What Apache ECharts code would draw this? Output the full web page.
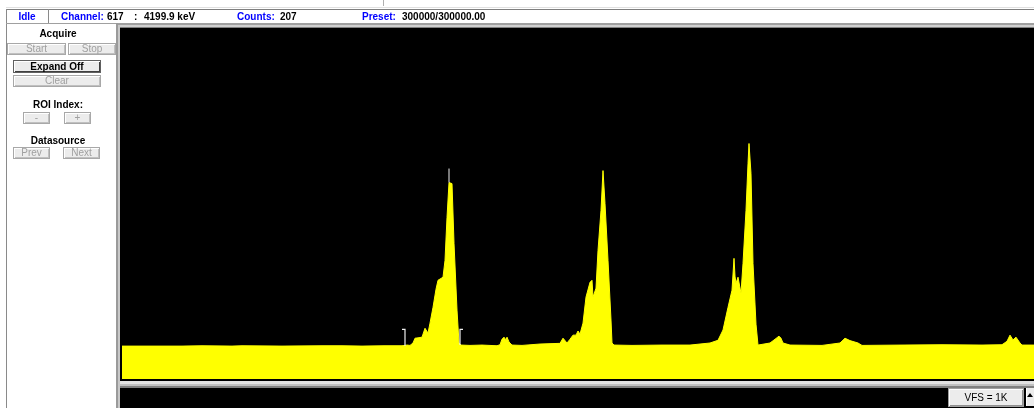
<!DOCTYPE html>
<html><head><meta charset="utf-8">
<script src="https://cdn.jsdelivr.net/npm/echarts@6/dist/echarts.min.js"></script>
<style>html,body{margin:0;padding:0;background:#fff;}#c{width:1034px;height:408px;}</style>
</head><body><div id="c"></div>
<script>
// ---- data (channel index, counts) ----
const channels = [0,30,31,60,80,110,111,120,160,200,220,221,240,262,263,280,
  285,288,291,293,296,300,303,306,308,311,314,316,321,323,325,327,329,330,332,335,337,339,
  348,360,375,378,380,382,384,385,387,390,400,418,438,
  441,445,448,451,454,456,458,460,461,464,468,470,471,474,476,479,481,483,486,489,490,492,
  510,540,568,588,596,601,606,610,612,613,614,616,619,621,624,626,627,629,631,634,636,
  648,653,657,659,661,668,700,718,723,728,736,740,780,820,860,880,
  885,888,891,894,898,900,912];
const counts = [96,96,100,96,97,96,100,97,96,97,97,101,96,97,101,97,
  99,98,105,119,120,122,148,134,163,209,262,288,297,346,471,573,576,570,396,201,105,99,
  98,99,97,100,116,122,114,122,108,99,98,102,104,
  119,105,116,128,128,140,131,134,163,239,282,288,239,265,375,492,608,512,346,172,105,99,
  98,99,99,105,113,143,209,259,352,300,279,297,250,337,492,628,687,599,337,160,99,
  105,116,125,119,105,99,98,105,119,112,105,98,99,100,99,100,
  110,128,114,122,105,99,99];
const roiLeftMarker = [[280,145],[283,145],[283,96]];
const roiRightMarker = [[341,145],[338,145],[338,99]];
const peakMarker = [[327,573],[327,614]];
const fullScale = 1024;
const maxChannel = 912;
const statusTexts = [
  {t:'Idle', x:27, c:'#0000ff', a:'center'},
  {t:'Channel:', x:61, c:'#0000ff'},
  {t:'617', x:107, c:'#000'},
  {t:':', x:134, c:'#000'},
  {t:'4199.9 keV', x:144, c:'#000'},
  {t:'Counts:', x:237, c:'#0000ff'},
  {t:'207', x:280, c:'#000'},
  {t:'Preset:', x:362, c:'#0000ff'},
  {t:'300000/300000.00', x:402, c:'#000'}
];
const panelLabels = [
  {t:'Acquire', y:34}, {t:'ROI Index:', y:105}, {t:'Datasource', y:141}
];
const buttons = [
  {t:'Start', x:7, y:43, w:59, h:12, on:false},
  {t:'Stop', x:68, y:43, w:48, h:12, on:false},
  {t:'Expand Off', x:13, y:60, w:88, h:13, on:true},
  {t:'Clear', x:13, y:75, w:88, h:12, on:false},
  {t:'-', x:23, y:112, w:27, h:12, on:false},
  {t:'+', x:64, y:112, w:27, h:12, on:false},
  {t:'Prev', x:13, y:147, w:37, h:12, on:false},
  {t:'Next', x:63, y:147, w:37, h:12, on:false}
];
const vfsLabel = 'VFS = 1K';

const FONT = '"Liberation Sans", Arial, sans-serif';
const g = [];
function R(x,y,w,h,fill){ g.push({type:'rect', shape:{x:x,y:y,width:w,height:h}, style:{fill:fill}, silent:true}); }
function T(text,x,y,fill,font,align){ g.push({type:'text', x:x, y:y, style:{text:text, fill:fill, font:font, align:align||'left', verticalAlign:'middle'}, silent:true}); }

// status bar
R(6,7,1028,1,'#e0e0e0');
R(6,9,1028,1,'#7f7f7f');
R(6,9,1,399,'#8a8a8a');
R(48,9,1,14,'#8a8a8a');
R(6,23,110,1,'#a0a0a0');
R(383,0,1,6,'#b0b0b0');
statusTexts.forEach(s => T(s.t, s.x, 17, s.c, 'bold 10px ' + FONT, s.a));
// chart frame bevels
R(116,23,918,2,'#a0a0a0');
R(116,25,918,2,'#d0d0d0');
R(116,27,918,1,'#808080');
R(116,23,2,385,'#9a9a9a');
R(118,25,2,383,'#c8c8c8');
R(120,28,914,353,'#000');
R(120,381,914,3,'#e2e2e2');
R(120,384,914,2,'#c0c0c0');
R(120,386,914,2,'#808080');
R(120,388,914,20,'#000');
// left panel
panelLabels.forEach(p => T(p.t, 58, p.y, '#000', 'bold 10px ' + FONT, 'center'));
buttons.forEach(b => {
  R(b.x, b.y, b.w, b.h, b.on ? '#606060' : '#a8a8a8');
  R(b.x+1, b.y+1, b.w-2, b.h-2, '#ffffff');
  R(b.x+2, b.y+2, b.w-3, b.h-3, b.on ? '#404040' : '#c0c0c0');
  R(b.x+2, b.y+2, b.w-4, b.h-4, '#ececec');
  T(b.t, b.x + b.w/2, b.y + b.h/2 + 0.5, b.on ? '#000' : '#a0a0a0', (b.on ? 'bold ' : '') + '10px ' + FONT, 'center');
});
// VFS box + scroll button
R(948,388,76,19,'#a0a0a0');
R(949,389,74,17,'#ffffff');
R(950,390,73,16,'#909090');
R(950,390,72,15,'#ececec');
T(vfsLabel, 986, 398, '#000', '10px ' + FONT, 'center');
R(1026,388,8,18,'#ececec');
R(1026,388,1,18,'#ffffff');
g.push({type:'polygon', shape:{points:[[1027,397],[1033,397],[1030,393]]}, style:{fill:'#000'}, silent:true});

const chart = echarts.init(document.getElementById('c'), null, {renderer:'canvas'});
const pts = channels.map((c,i) => [c, counts[i]]);
chart.setOption({
  animation:false,
  backgroundColor:'#ffffff',
  grid:{left:122, right:0, top:28, bottom:29, show:false},
  xAxis:{type:'value', min:0, max:maxChannel, show:false},
  yAxis:{type:'value', min:0, max:fullScale, show:false},
  graphic:{elements:g},
  series:[
    {type:'line', data:pts, symbol:'none', z:10, lineStyle:{color:'#ffff00', width:1}, areaStyle:{color:'#ffff00', opacity:1}},
    {type:'line', data:peakMarker, symbol:'none', z:11, lineStyle:{color:'#f0f0f0', width:1}},
    {type:'line', data:roiLeftMarker, symbol:'none', z:11, lineStyle:{color:'#f0f0f0', width:1.2, join:'miter', cap:'butt'}},
    {type:'line', data:roiRightMarker, symbol:'none', z:11, lineStyle:{color:'#f0f0f0', width:1.2, join:'miter', cap:'butt'}}
  ]
});
</script></body></html>
